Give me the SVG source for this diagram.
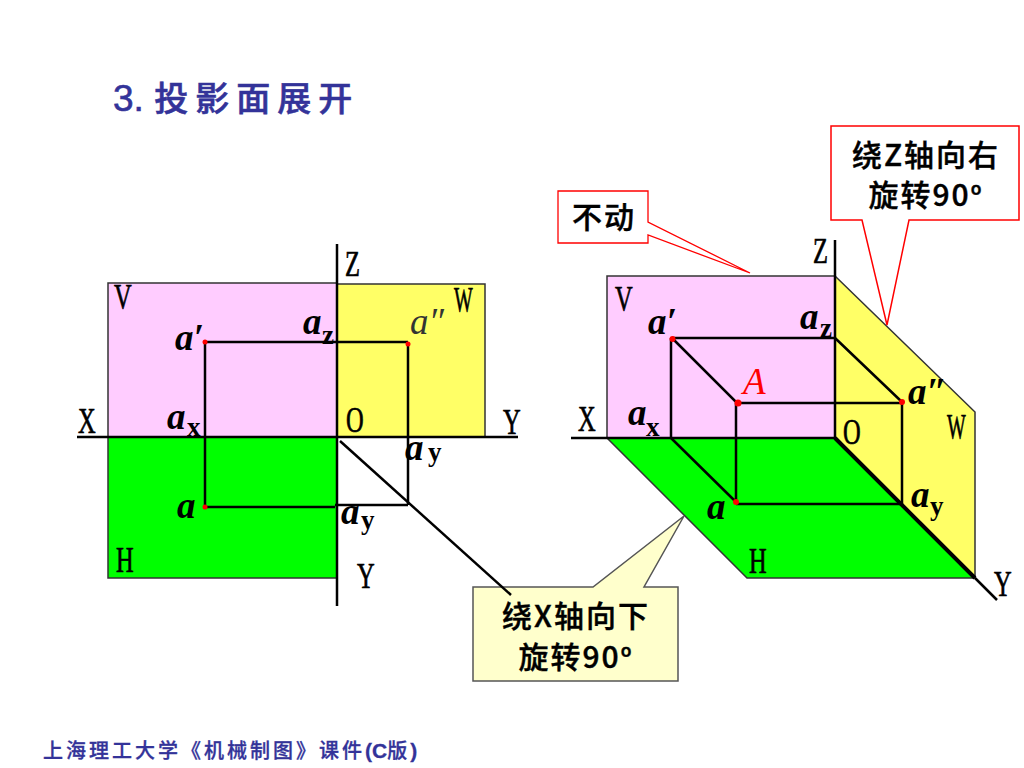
<svg xmlns="http://www.w3.org/2000/svg" width="1024" height="768" viewBox="0 0 1024 768">
<style>
.pl{stroke:#333;stroke-width:1.5}
.ln{stroke:#000;stroke-width:2.5;fill:none}
.ax{font-family:"Liberation Serif",serif;font-size:36px;fill:#000;stroke:#000;stroke-width:.7}
.a{font-family:"Liberation Serif",serif;font-size:37px;font-weight:bold;font-style:italic;fill:#000}
.s{font-family:"Liberation Serif",serif;font-size:27px;font-weight:bold;fill:#000}
.cj{font-family:"Noto Sans CJK SC",sans-serif;font-size:30px;font-weight:500;fill:#000;letter-spacing:2px;text-anchor:middle;stroke:#000;stroke-width:.4}
.deg{font-size:26px}
.pt{fill:#f00}
.title{font-family:"Noto Sans CJK SC",sans-serif;font-size:34px;font-weight:500;fill:#333399;letter-spacing:7px;stroke:#333399;stroke-width:.6}
.foot{font-family:"Noto Sans CJK SC",sans-serif;font-size:20px;font-weight:500;fill:#333399;letter-spacing:3px;stroke:#333399;stroke-width:.3}
.lat{font-family:"Liberation Sans",sans-serif;font-weight:bold;letter-spacing:0}
.num{font-family:"Liberation Sans",sans-serif;letter-spacing:0}
</style>
<rect width="1024" height="768" fill="#fff"/>
<g id="title"><text class="title" x="113" y="111"><tspan class="num" font-size="37">3. </tspan>投影面展开</text></g>

<g id="left-planes">
<rect class="pl" x="108" y="283" width="229" height="154" fill="#ffccff"/>
<rect class="pl" x="337" y="284" width="148" height="153" fill="#ffff66"/>
<rect class="pl" x="108" y="437" width="229" height="141" fill="#00ff00"/>
</g>
<g id="right-planes">
<polygon class="pl" points="835,276 975,412 975,578 835,438" fill="#ffff66"/>
<rect class="pl" x="607" y="276" width="228" height="162" fill="#ffccff"/>
<polygon class="pl" points="607,438 835,438 975,578 747,578" fill="#00ff00"/>
</g>

<g id="callout-x"><path d="M473 587H593L684 516L644 587H678V681H473Z" fill="#ffffcc" stroke="#555" stroke-width="1.5"/>
<text class="cj" x="576" y="627">绕X轴向下</text><text class="cj" x="576" y="668">旋转90<tspan class="deg">º</tspan></text></g>
<g id="callout-static"><path d="M558 191H648V222L750 273L648 235V243H558Z" fill="#fff" stroke="#f00" stroke-width="1.3"/>
<text class="cj" x="604" y="228">不动</text></g>
<g id="callout-z"><path d="M831 126H1019V220H909L887 325L862 220H831Z" fill="#fff" stroke="#f00" stroke-width="1.5"/>
<text class="cj" x="926" y="166">绕Z轴向右</text><text class="cj" x="926" y="206">旋转90<tspan class="deg">º</tspan></text></g>

<g id="connectors">
<path class="ln" d="M337 244V606M77 437H518"/>
<path class="ln" d="M205 342H408M205 342V507M408 343V505M205 507H335M335 505H408"/>
<path class="ln" stroke-width="2" d="M340 441L511 595"/>
<path class="ln" d="M835 240V438M571 438H835"/>
<path d="M835 438L975 578" stroke="#000" stroke-width="4"/>
<path class="ln" stroke-width="2" d="M975 578L997 600"/>
<path class="ln" d="M672 338H835M671 338V438M672 338L737 403H902M736 403V502M835 338L902 402M902 402V504M736 504H902M671 438L736 502"/>
</g>
<g id="points">
<circle class="pt" cx="205" cy="342" r="2.5"/><circle class="pt" cx="408" cy="344" r="2.5"/><circle class="pt" cx="205" cy="507" r="2.5"/>
<circle class="pt" cx="672.500" cy="339" r="3"/><circle class="pt" cx="738" cy="403" r="3.500"/><circle class="pt" cx="902" cy="402" r="3"/><circle class="pt" cx="736" cy="502" r="3"/>
</g>
<g id="labels-left">
<text class="ax" transform="translate(345,276) scale(.68,1)">Z</text>
<text class="ax" transform="translate(114,309) scale(.68,1)">V</text>
<text class="ax" transform="translate(454,312) scale(.55,1)">W</text>
<text class="ax" transform="translate(78,433) scale(.68,1)">X</text>
<text class="ax" transform="translate(503,434) scale(.68,1)">Y</text>
<text class="ax" transform="translate(346,432) scale(.68,1)">O</text>
<text class="ax" transform="translate(116,572) scale(.68,1)">H</text>
<text class="ax" transform="translate(357,588) scale(.68,1)">Y</text>
<text class="a" x="175" y="350">a′</text>
<text class="a" x="303" y="334">a</text><text class="s" x="322" y="344">z</text>
<text class="a" x="410" y="334" style="font-weight:normal;fill:#333">a″</text>
<text class="a" x="167" y="429">a</text><text class="s" x="187" y="436">x</text>
<text class="a" x="405" y="460">a</text><text class="s" x="428" y="461">y</text>
<text class="a" x="177" y="518">a</text>
<text class="a" x="341" y="524">a</text><text class="s" x="361" y="529">y</text>
</g>
<g id="labels-right">
<text class="ax" transform="translate(813,263) scale(.68,1)">Z</text>
<text class="ax" transform="translate(615,311) scale(.68,1)">V</text>
<text class="ax" transform="translate(947,439) scale(.55,1)">W</text>
<text class="ax" transform="translate(578,431) scale(.68,1)">X</text>
<text class="ax" transform="translate(843,444) scale(.68,1)">O</text>
<text class="ax" transform="translate(749,573) scale(.68,1)">H</text>
<text class="ax" transform="translate(994,596) scale(.68,1)">Y</text>
<text class="a" x="648" y="334">a′</text>
<text class="a" x="800" y="329">a</text><text class="s" x="820" y="337">z</text>
<text class="a" x="743" y="394" style="font-weight:normal;fill:#f00">A</text>
<text class="a" x="908" y="404">a″</text>
<text class="a" x="628" y="425">a</text><text class="s" x="646" y="436">x</text>
<text class="a" x="911" y="507">a</text><text class="s" x="930" y="515">y</text>
<text class="a" x="707" y="519">a</text>
</g>
<g id="footer"><text class="foot" x="43" y="758">上海理工大学《机械制图》课件<tspan class="lat" font-size="21">(C</tspan>版<tspan class="lat" font-size="21">)</tspan></text></g>
</svg>
